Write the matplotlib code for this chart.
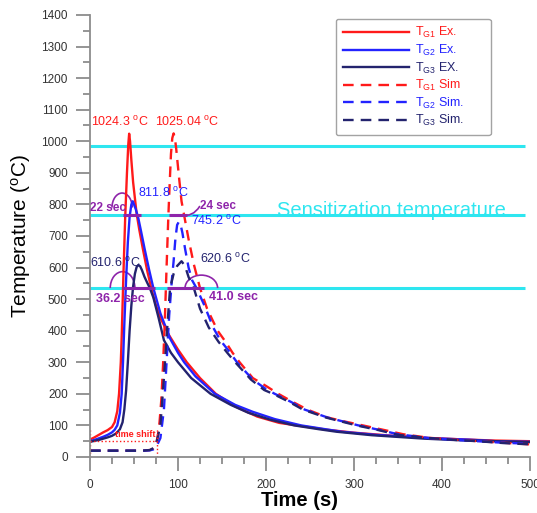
import numpy as np
import matplotlib
matplotlib.use("Agg")
import matplotlib.pyplot as plt
from matplotlib.patches import Arc

plt.rcParams['font.family'] = ['Liberation Sans', 'DejaVu Sans']
plt.rcParams['mathtext.fontset'] = 'custom'
plt.rcParams['mathtext.rm'] = 'Liberation Sans'
plt.rcParams['mathtext.it'] = 'Liberation Sans'
plt.rcParams['mathtext.default'] = 'regular'

# --- data ---
t_g1_ex = [0, 5, 10, 15, 20, 25, 28, 31, 33, 35, 36, 37, 38, 40, 42, 43.5, 44.5, 45.5, 47, 49, 51, 53, 56, 60, 65,
           70, 75, 80, 90, 100, 110, 125, 143, 165, 190, 215, 240, 270, 300, 340, 380, 420, 460, 500]
T_g1_ex = [55, 62, 70, 78, 85, 95, 110, 145, 200, 300, 380, 480, 580, 760, 900, 990, 1024, 1000, 940, 870, 820, 770,
           720, 660, 590, 530, 480, 440, 385, 340, 300, 250, 200, 160, 128, 108, 98, 86, 77, 68, 61, 56, 52, 50]

t_g2_ex = [0, 5, 10, 15, 20, 25, 28, 31, 34, 36, 37.5, 39, 41, 43, 45, 47, 48.6, 50, 52, 55, 58, 62, 67, 72, 80, 91,
           100, 107, 120, 142, 165, 185, 210, 240, 265, 286, 325, 383, 430, 461, 500]
T_g2_ex = [50, 54, 59, 64, 70, 78, 86, 100, 140, 200, 300, 420, 560, 680, 760, 800, 810, 800, 785, 755, 715, 660, 595,
           535, 455, 375, 330, 300, 255, 200, 165, 143, 120, 100, 89, 80, 70, 60, 55, 50, 48]

t_g3_ex = [0, 5, 10, 15, 20, 25, 30, 34, 37, 39, 41, 43, 45, 47, 49, 51, 53, 55, 57, 59, 62, 65, 68, 72, 78, 84, 92,
           100, 115, 137, 160, 180, 205, 232, 260, 280, 320, 380, 420, 460, 500]
T_g3_ex = [48, 51, 54, 58, 62, 67, 75, 88, 110, 150, 210, 300, 400, 480, 540, 580, 602, 608, 604, 592, 570, 552, 535,
           505, 440, 370, 330, 300, 250, 200, 165, 140, 118, 100, 88, 80, 69, 58, 53, 50, 47]

t_g1_sim = [0, 20, 40, 60, 68, 72, 75, 77, 79, 81, 83, 85, 87, 89, 90, 92, 93.5, 95, 96.5, 98, 101, 104, 107, 112, 118,
            125, 133, 145, 154, 162, 170, 185, 200, 214, 230, 247, 270, 290, 310, 335, 356, 387, 415, 441, 470, 500]
T_g1_sim = [20, 20, 20, 20, 22, 27, 40, 65, 110, 180, 290, 430, 600, 760, 830, 960, 1010, 1025, 1010, 975, 890, 810,
            765, 690, 610, 535, 470, 400, 365, 330, 300, 250, 225, 200, 175, 150, 125, 112, 100, 85, 72, 60, 55, 50,
            45, 40]

t_g2_sim = [0, 20, 40, 60, 68, 72, 75, 80, 84, 87, 90, 93, 95, 97, 99, 101, 103, 105, 108, 112, 116, 121, 130, 140,
            148, 158, 167, 185, 200, 210, 228, 244, 270, 305, 330, 350, 385, 415, 440, 470, 500]
T_g2_sim = [20, 20, 20, 20, 21, 24, 30, 60, 150, 300, 450, 560, 620, 690, 735, 745, 735, 710, 660, 600, 560, 535, 480,
            410, 370, 335, 300, 245, 215, 200, 175, 150, 125, 100, 85, 72, 60, 54, 50, 45, 42]

t_g3_sim = [0, 20, 40, 60, 68, 72, 75, 80, 84, 88, 91, 95, 99, 104, 108, 112, 118, 125, 135, 146, 156, 165, 183, 198,
            208, 226, 242, 268, 303, 328, 350, 385, 415, 440, 470, 500]
T_g3_sim = [20, 20, 20, 20, 22, 28, 40, 100, 250, 420, 535, 580, 605, 620, 605, 570, 535, 470, 410, 365, 330, 300, 245,
            212, 200, 175, 150, 125, 100, 85, 70, 60, 54, 50, 44, 40]

sens_levels = [984, 767, 536]
peak_labels = ["1024.3 $^{o}$C", "1025.04 $^{o}$C", "811.8 $^{o}$C", "745.2 $^{o}$C", "610.6 $^{o}$C", "620.6 $^{o}$C"]
dur_labels = ["22 sec", "24 sec", "36.2 sec", "41.0 sec"]
dur_spans = [(37, 58), (90, 110), (36, 74), (87, 129)]

red = '#ff1a1a'
blue = '#2323ff'
navy = '#23236e'
cyan = '#2ee6f0'
purple = '#8e24aa'
dash = (0, (4.5, 3))

fig = plt.figure(figsize=(5.37, 5.13), dpi=100)
ax = fig.add_axes([0.1676, 0.1092, 0.8194, 0.8616])

ax.plot(t_g1_ex, T_g1_ex, color=red, lw=1.7, label='T$_{G1}$ Ex.')
ax.plot(t_g2_ex, T_g2_ex, color=blue, lw=1.7, label='T$_{G2}$ Ex.')
ax.plot(t_g3_ex, T_g3_ex, color=navy, lw=1.7, label='T$_{G3}$ EX.')
ax.plot(t_g1_sim, T_g1_sim, color=red, lw=1.7, ls=dash, label='T$_{G1}$ Sim')
ax.plot(t_g2_sim, T_g2_sim, color=blue, lw=1.7, ls=dash, label='T$_{G2}$ Sim.')
ax.plot(t_g3_sim, T_g3_sim, color=navy, lw=1.7, ls=dash, label='T$_{G3}$ Sim.')

for lev in sens_levels:
    ax.hlines(lev, 0, 494, color=cyan, lw=2.2, zorder=1)
ax.text(343, 764, "Sensitization temperature", color=cyan, fontsize=14.5, ha='center', va='baseline')

# peak temperatures
ax.text(34, 1060, peak_labels[0], color=red, fontsize=9, ha='center', va='center')
ax.text(110, 1060, peak_labels[1], color=red, fontsize=9, ha='center', va='center')
ax.text(83, 836, peak_labels[2], color=blue, fontsize=9, ha='center', va='center')
ax.text(144, 748, peak_labels[3], color=blue, fontsize=9, ha='center', va='center')
ax.text(29, 614, peak_labels[4], color=navy, fontsize=9, ha='center', va='center')
ax.text(154, 627, peak_labels[5], color=navy, fontsize=9, ha='center', va='center')

# time above sensitization
for (a, b), lev in zip(dur_spans, [767, 767, 536, 536]):
    ax.hlines(lev, a, b, color=purple, lw=2.2, zorder=3)
ax.text(20.5, 788, dur_labels[0], color=purple, fontsize=8.5, fontweight='bold', ha='center', va='center')
ax.text(146, 795, dur_labels[1], color=purple, fontsize=8.5, fontweight='bold', ha='center', va='center')
ax.text(34, 500, dur_labels[2], color=purple, fontsize=9, fontweight='bold', ha='center', va='center')
ax.text(163, 507, dur_labels[3], color=purple, fontsize=9, fontweight='bold', ha='center', va='center')
ax.add_patch(Arc((36.5, 790), 23, 92, theta1=0, theta2=180, color=purple, lw=1.2))
ax.add_patch(Arc((37, 535), 28, 104, theta1=0, theta2=180, color=purple, lw=1.2))
ax.add_patch(Arc((126.5, 535), 37, 82, theta1=0, theta2=180, color=purple, lw=1.2))
ax.annotate("", xy=(100, 767), xytext=(126, 801),
            arrowprops=dict(arrowstyle='-', color=purple, lw=1.2, connectionstyle='arc3,rad=-0.4'))

# time shift marker
ax.vlines([0, 76], 0, 92, color=red, lw=1, ls=':')
ax.hlines(50, 0, 76, color=red, lw=1, ls=':')
ax.text(51, 70, "time shift", color=red, fontsize=6.5, fontweight='bold', ha='center', va='center')

ax.set_xlim(0, 500)
ax.set_ylim(0, 1400)
ax.set_xticks(np.arange(0, 501, 100))
ax.set_xticks(np.arange(0, 501, 25), minor=True)
ax.set_yticks(np.arange(0, 1401, 100))
ax.set_yticks(np.arange(0, 1401, 50), minor=True)
ax.spines['top'].set_visible(False)
ax.spines['right'].set_visible(False)
for s in ['left', 'bottom']:
    ax.spines[s].set_color('#8c8c8c')
    ax.spines[s].set_linewidth(1.3)
ax.tick_params(which='major', length=10, width=1.3, color='#8c8c8c', labelsize=8.5, labelcolor='#333333', pad=6)
ax.tick_params(which='minor', length=5, width=1.3, color='#8c8c8c')

ax.set_xlabel("Time (s)", fontsize=14.5, fontweight='bold')
ax.xaxis.set_label_coords(0.477, -0.076)
ax.set_ylabel("Temperature ($^{o}$C)", fontsize=15)
ax.yaxis.set_label_coords(-0.13, 0.5)

leg = ax.legend(loc='upper left', bbox_to_anchor=(0.559, 0.731, 0.352, 0.261), mode='expand',
                borderaxespad=0, fontsize=9, handlelength=5.3, labelspacing=0.2, frameon=True,
                fancybox=True, borderpad=0.55, handletextpad=0.5)
leg.get_frame().set_edgecolor('#8c8c8c')
leg.get_frame().set_linewidth(1.0)
for txt, line in zip(leg.get_texts(), leg.get_lines()):
    txt.set_color(line.get_color())

fig.savefig("out.png", dpi=100)
